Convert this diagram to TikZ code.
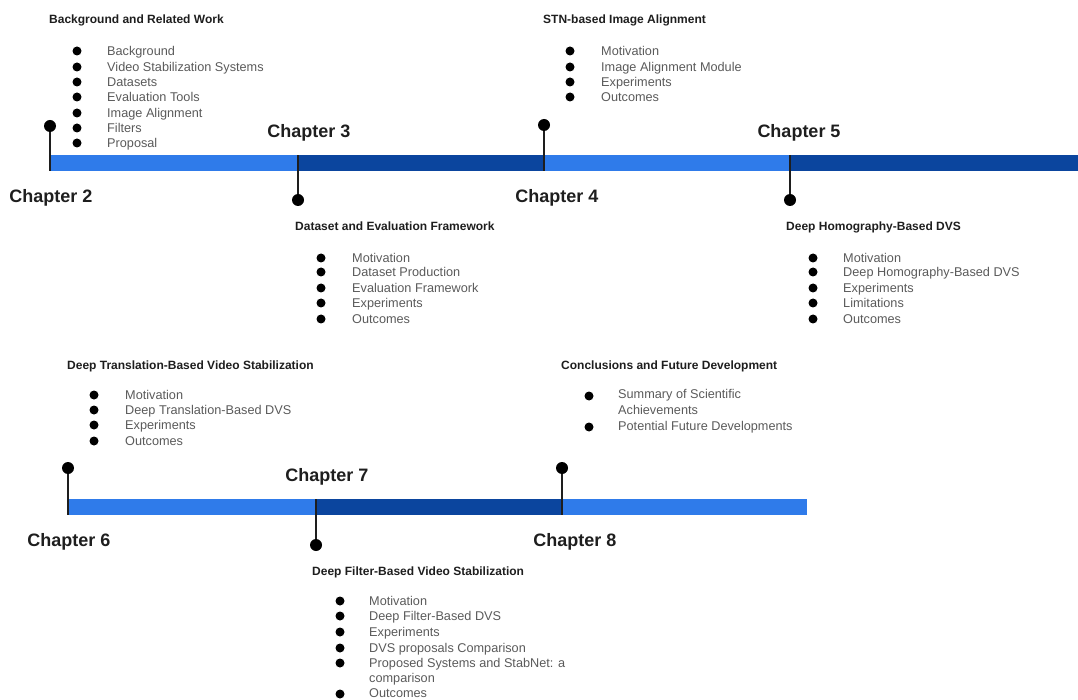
\documentclass[tikz,border=0pt]{standalone}
\usepackage{fontspec}
\setmainfont{Liberation Sans}
\definecolor{lightbar}{HTML}{2F7BEA}
\definecolor{darkbar}{HTML}{0B459E}
\definecolor{itemgray}{HTML}{5A5A5A}
\definecolor{headink}{HTML}{1E1E1E}
% bullet list: name, bullet x, text x, list of y/text
\newcommand{\chapitems}[4]{%
  \foreach \yy/\tt [count=\k] in {#4} {%
    \node[bul] (#1-b\k) at (#2,\yy) {};
    \node[item] (#1-t\k) at (#3,\yy) {\tt};
  }%
}
\begin{document}
\begin{tikzpicture}[x=1pt,y=-1pt,
  chap/.style={font=\bfseries\fontsize{18}{20}\selectfont, text=headink, inner sep=0, anchor=base, yshift=-6.5pt},
  head/.style={font=\bfseries\fontsize{12}{14}\selectfont, text=headink, anchor=base west, inner sep=0, yshift=-4pt},
  item/.style={font=\fontsize{12.7}{14}\selectfont, text=itemgray, anchor=base west, inner sep=0, yshift=-4.3pt},
  bul/.style={circle, fill=black, inner sep=0, minimum size=9pt},
  pin/.style={circle, fill=black, inner sep=0, minimum size=12pt},
  stem/.style={line width=1.2pt, draw=headink},
  seglight/.style={fill=lightbar},
  segdark/.style={fill=darkbar}]
\useasboundingbox (0,0) rectangle (1078,700);

% ---------- upper timeline ----------
\fill[seglight] (50,155) rectangle (298,171);
\fill[segdark]  (298,155) rectangle (543,171);
\fill[seglight] (543,155) rectangle (790,171);
\fill[segdark]  (790,155) rectangle (1078,171);

\node[pin] (p2) at (50,126) {};
\node[pin] (p3) at (298,200) {};
\node[pin] (p4) at (544,125) {};
\node[pin] (p5) at (790,200) {};
\coordinate (e2) at (50,171);
\coordinate (e3) at (298,155);
\coordinate (e4) at (544,171);
\coordinate (e5) at (790,155);
\draw[stem] (p2) -- (e2);
\draw[stem] (p3) -- (e3);
\draw[stem] (p4) -- (e4);
\draw[stem] (p5) -- (e5);

\node[chap] (c2) at (51,196) {Chapter 2};
\node[chap] (c3) at (309,131) {Chapter 3};
\node[chap] (c4) at (557,196) {Chapter 4};
\node[chap] (c5) at (799,131) {Chapter 5};

% Chapter 2
\node[head] (h2) at (49,20) {Background and Related Work};
\chapitems{l2}{77}{107}{51/Background, 67/Video Stabilization Systems, 82/Datasets, 97/Evaluation Tools, 113/Image Alignment, 128/Filters, 143/Proposal}

% Chapter 3
\node[head] (h3) at (295,227) {Dataset and Evaluation Framework};
\chapitems{l3}{321}{352}{258/Motivation, 272/Dataset Production, 288/Evaluation Framework, 303/Experiments, 319/Outcomes}

% Chapter 4
\node[head] (h4) at (543,20) {STN-based Image Alignment};
\chapitems{l4}{570}{601}{51/Motivation, 67/Image Alignment Module, 82/Experiments, 97/Outcomes}

% Chapter 5
\node[head] (h5) at (786,227) {Deep Homography-Based DVS};
\chapitems{l5}{813}{843}{258/Motivation, 272/Deep Homography-Based DVS, 288/Experiments, 303/Limitations, 319/Outcomes}

% ---------- lower timeline ----------
\fill[seglight] (68,499) rectangle (316,515);
\fill[segdark]  (316,499) rectangle (562,515);
\fill[seglight] (562,499) rectangle (807,515);

\node[pin] (p6) at (68,468) {};
\node[pin] (p7) at (316,545) {};
\node[pin] (p8) at (562,468) {};
\coordinate (e6) at (68,515);
\coordinate (e7) at (316,499);
\coordinate (e8) at (562,515);
\draw[stem] (p6) -- (e6);
\draw[stem] (p7) -- (e7);
\draw[stem] (p8) -- (e8);

\node[chap] (c6) at (69,540) {Chapter 6};
\node[chap] (c7) at (327,475) {Chapter 7};
\node[chap] (c8) at (575,540) {Chapter 8};

% Chapter 6
\node[head] (h6) at (67,365) {Deep Translation-Based Video Stabilization};
\chapitems{l6}{94}{125}{395/Motivation, 410/Deep Translation-Based DVS, 425/Experiments, 441/Outcomes}

% Chapter 8
\node[head] (h8) at (561,365) {Conclusions and Future Development};
\node[bul] (l8-b1) at (589,396) {};
\node[item] (l8-t1) at (618,394) {Summary of Scientific};
\node[item] (l8-t1b) at (618,410) {Achievements};
\node[bul] (l8-b2) at (589,427) {};
\node[item] (l8-t2) at (618,426) {Potential Future Developments};

% Chapter 7
\node[head] (h7) at (312,571) {Deep Filter-Based Video Stabilization};
\chapitems{l7}{340}{369}{601/Motivation, 616/Deep Filter-Based DVS, 632/Experiments, 648/DVS proposals Comparison, 663/Proposed Systems and StabNet: a}
\node[item] (l7-t5b) at (369,678) {comparison};
\node[bul] (l7-b6) at (340,694) {};
\node[item] (l7-t6) at (369,693) {Outcomes};

\end{tikzpicture}
\end{document}
